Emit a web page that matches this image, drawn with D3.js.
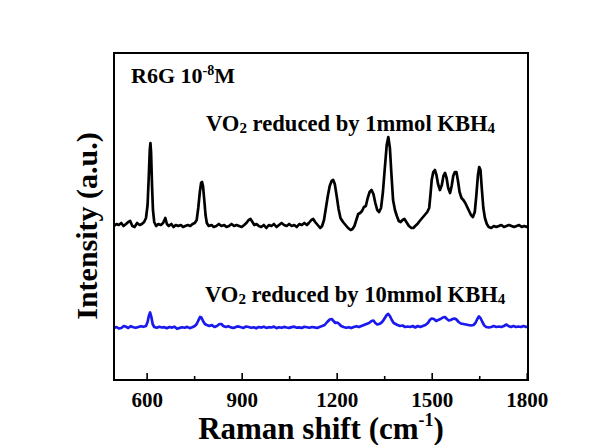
<!DOCTYPE html>
<html>
<head>
<meta charset="utf-8">
<script src="https://cdn.jsdelivr.net/npm/d3@7/dist/d3.min.js"></script>
<style>
  html, body { margin: 0; padding: 0; background: #ffffff; }
  svg { display: block; }
  text { font-family: "Liberation Serif", "Times New Roman", serif; font-weight: bold; fill: #000; }
</style>
</head>
<body>
<svg id="chart" width="600" height="445"></svg>
<script>
// Raman shift (cm^-1) sample positions and intensities (a.u.) for each spectrum
const shiftsHigh = [497,505,512,520,527,535,542,548,555,562,570,578,585,592,598,603,607,610,612,614,617,620,624,630,637,645,652,659,664,670,678,685,692,700,708,715,722,730,738,745,752,758,763,768,772,775,778,782,786,790,796,805,812,820,828,836,845,852,860,868,876,884,892,900,908,915,922,928,934,940,947,954,962,970,978,986,994,1002,1010,1018,1026,1034,1042,1050,1058,1066,1074,1082,1090,1098,1106,1112,1120,1126,1132,1140,1148,1154,1160,1166,1172,1178,1184,1189,1194,1200,1206,1212,1220,1228,1236,1244,1250,1256,1262,1268,1274,1280,1286,1292,1298,1304,1310,1316,1322,1328,1334,1340,1346,1352,1358,1363,1368,1373,1378,1384,1390,1396,1402,1408,1414,1420,1428,1436,1442,1448,1455,1462,1470,1478,1486,1492,1496,1500,1505,1510,1515,1520,1526,1532,1537,1542,1547,1552,1558,1563,1568,1573,1578,1583,1588,1594,1600,1606,1612,1618,1624,1630,1636,1641,1646,1650,1654,1658,1663,1668,1674,1680,1688,1696,1704,1712,1720,1728,1736,1744,1752,1760,1768,1776,1784,1792,1800,1804];
const intensityHigh = [1540,1560,1550,1570,1540,1560,1580,1590,1540,1530,1570,1550,1560,1580,1620,1750,2050,2300,2370,2280,1950,1700,1580,1540,1560,1550,1570,1620,1560,1540,1560,1530,1550,1540,1550,1530,1540,1550,1540,1560,1570,1600,1720,1880,1970,1980,1940,1800,1650,1570,1540,1550,1530,1540,1560,1540,1550,1530,1540,1560,1540,1550,1540,1530,1550,1570,1600,1610,1580,1550,1560,1540,1530,1550,1520,1550,1540,1560,1530,1550,1570,1550,1540,1560,1540,1550,1530,1560,1550,1570,1550,1570,1600,1610,1580,1550,1520,1540,1600,1720,1840,1940,1990,2000,1960,1840,1710,1620,1580,1550,1520,1500,1510,1540,1600,1660,1670,1690,1730,1740,1820,1880,1900,1860,1770,1700,1680,1720,1880,2120,2350,2430,2320,2050,1800,1700,1640,1590,1580,1600,1610,1580,1540,1520,1520,1540,1560,1590,1620,1650,1680,1720,1850,2000,2080,2100,2050,1960,1900,1950,2040,2070,2020,1920,1870,1940,2040,2080,2080,1990,1880,1820,1800,1770,1730,1690,1650,1630,1680,1850,2050,2130,2100,1920,1720,1620,1560,1530,1520,1540,1530,1540,1550,1530,1540,1550,1540,1530,1540,1550,1530,1540,1530,1540];

const shiftsLow = [497,505,512,520,528,535,542,550,558,566,574,582,590,598,603,607,611,615,619,624,632,640,648,656,664,672,680,688,696,704,712,720,728,736,744,752,758,764,769,773,778,784,790,798,806,814,822,830,836,842,850,858,866,874,882,890,898,906,914,922,930,938,946,954,962,970,978,986,994,1002,1010,1018,1026,1034,1042,1050,1058,1066,1074,1082,1090,1098,1106,1114,1122,1130,1138,1146,1154,1162,1170,1178,1184,1190,1196,1202,1208,1214,1222,1230,1238,1246,1254,1262,1270,1278,1286,1294,1302,1310,1316,1322,1328,1334,1340,1346,1352,1358,1363,1368,1374,1380,1386,1392,1400,1408,1416,1424,1432,1440,1448,1456,1464,1472,1480,1488,1494,1500,1507,1514,1520,1528,1535,1542,1548,1554,1560,1566,1572,1578,1585,1592,1600,1608,1616,1624,1632,1638,1644,1649,1654,1660,1666,1672,1680,1688,1696,1704,1712,1720,1728,1736,1742,1750,1758,1766,1774,1782,1790,1798,1804];
const intensityLow = [520,530,515,520,540,532,520,538,528,522,530,538,532,540,580,640,675,630,560,530,522,532,525,528,518,530,524,533,512,521,528,523,531,519,527,540,560,600,630,625,590,560,550,540,550,530,540,560,560,540,530,538,526,520,531,536,527,521,535,530,522,527,517,530,524,533,521,528,525,534,519,527,522,531,525,521,529,533,523,526,520,532,527,522,530,526,520,531,540,550,580,605,610,590,570,575,560,540,530,522,528,519,530,538,529,540,550,560,570,590,595,570,555,560,570,590,620,650,660,640,600,570,560,550,540,545,530,535,530,540,525,540,530,540,550,570,600,615,610,590,600,610,625,630,610,595,600,610,615,605,580,565,560,555,550,545,550,570,610,635,620,580,545,530,525,530,540,530,535,530,540,555,540,530,540,530,535,530,540,530,535];

// Axis ticks along the Raman shift axis
const majorTicks = [600, 900, 1200, 1500, 1800];
const minorTicks = [750, 1050, 1350, 1650];

const svg = d3.select("#chart");
const W = 600, H = 445;
const margin = { top: 53, right: 72, bottom: 65, left: 114 };
const iw = W - margin.left - margin.right;
const ih = H - margin.top - margin.bottom;

const x = d3.scaleLinear().domain([497, 1804]).range([margin.left, margin.left + iw]);
const y = d3.scaleLinear().domain([0, 3270]).range([margin.top + ih, margin.top]);

const line = d3.line()
  .x(d => x(d[0]))
  .y(d => y(d[1]))
  .curve(d3.curveLinear);

const high = shiftsHigh.map((s, i) => [s, intensityHigh[i]]);
const low = shiftsLow.map((s, i) => [s, intensityLow[i]]);

svg.append("clipPath").attr("id", "plotclip")
  .append("rect").attr("x", margin.left).attr("y", margin.top).attr("width", iw).attr("height", ih);

const plot = svg.append("g").attr("clip-path", "url(#plotclip)");

plot.append("path").datum(low)
  .attr("d", line)
  .attr("fill", "none")
  .attr("stroke", "#1a1aee")
  .attr("stroke-width", 2.7)
  .attr("stroke-linejoin", "round");

plot.append("path").datum(high)
  .attr("d", line)
  .attr("fill", "none")
  .attr("stroke", "#000")
  .attr("stroke-width", 2.7)
  .attr("stroke-linejoin", "round");

// Bottom axis with inward ticks
const xAxis = d3.axisBottom(x).tickValues(majorTicks).tickSize(-7).tickPadding(12).tickFormat(d3.format("d"));
const gx = svg.append("g").attr("transform", `translate(0,${margin.top + ih})`).call(xAxis);
gx.select(".domain").remove();
gx.selectAll(".tick line").attr("stroke", "#000").attr("stroke-width", 1.6);
gx.selectAll(".tick text")
  .attr("font-family", "Liberation Serif, Times New Roman, serif")
  .attr("font-weight", "bold")
  .attr("font-size", 21)
  .attr("fill", "#000");

const xMinor = d3.axisBottom(x).tickValues(minorTicks).tickSize(-4).tickFormat("");
const gm = svg.append("g").attr("transform", `translate(0,${margin.top + ih})`).call(xMinor);
gm.select(".domain").remove();
gm.selectAll(".tick line").attr("stroke", "#000").attr("stroke-width", 1.6);

// Plot frame
svg.append("rect")
  .attr("x", margin.left).attr("y", margin.top)
  .attr("width", iw).attr("height", ih)
  .attr("fill", "none").attr("stroke", "#000").attr("stroke-width", 2);

// Sample label
const t1 = svg.append("text").attr("x", 131).attr("y", 83).attr("font-size", 22);
t1.append("tspan").text("R6G 10");
t1.append("tspan").attr("font-size", 14).attr("dy", -8).text("-8");
t1.append("tspan").attr("dy", 8).text("M");

// Spectrum labels
function vo2Label(xp, yp, amount) {
  const t = svg.append("text").attr("x", xp).attr("y", yp).attr("font-size", 22.6);
  t.append("tspan").text("VO");
  t.append("tspan").attr("font-size", 15).attr("dy", 2).text("2");
  t.append("tspan").attr("dy", -2).text(" reduced by " + amount + " KBH");
  t.append("tspan").attr("font-size", 15).attr("dy", 2).text("4");
}
vo2Label(206, 131, "1mmol");
vo2Label(205, 302, "10mmol");

// Axis titles
const xt = svg.append("text")
  .attr("x", 321).attr("y", 439)
  .attr("text-anchor", "middle").attr("font-size", 31);
xt.append("tspan").text("Raman shift (cm");
xt.append("tspan").attr("font-size", 18).attr("dy", -13).text("-1");
xt.append("tspan").attr("dy", 13).text(")");

svg.append("text")
  .attr("transform", `translate(97,${226}) rotate(-90)`)
  .attr("text-anchor", "middle").attr("font-size", 30)
  .text("Intensity (a.u.)");
</script>
</body>
</html>
